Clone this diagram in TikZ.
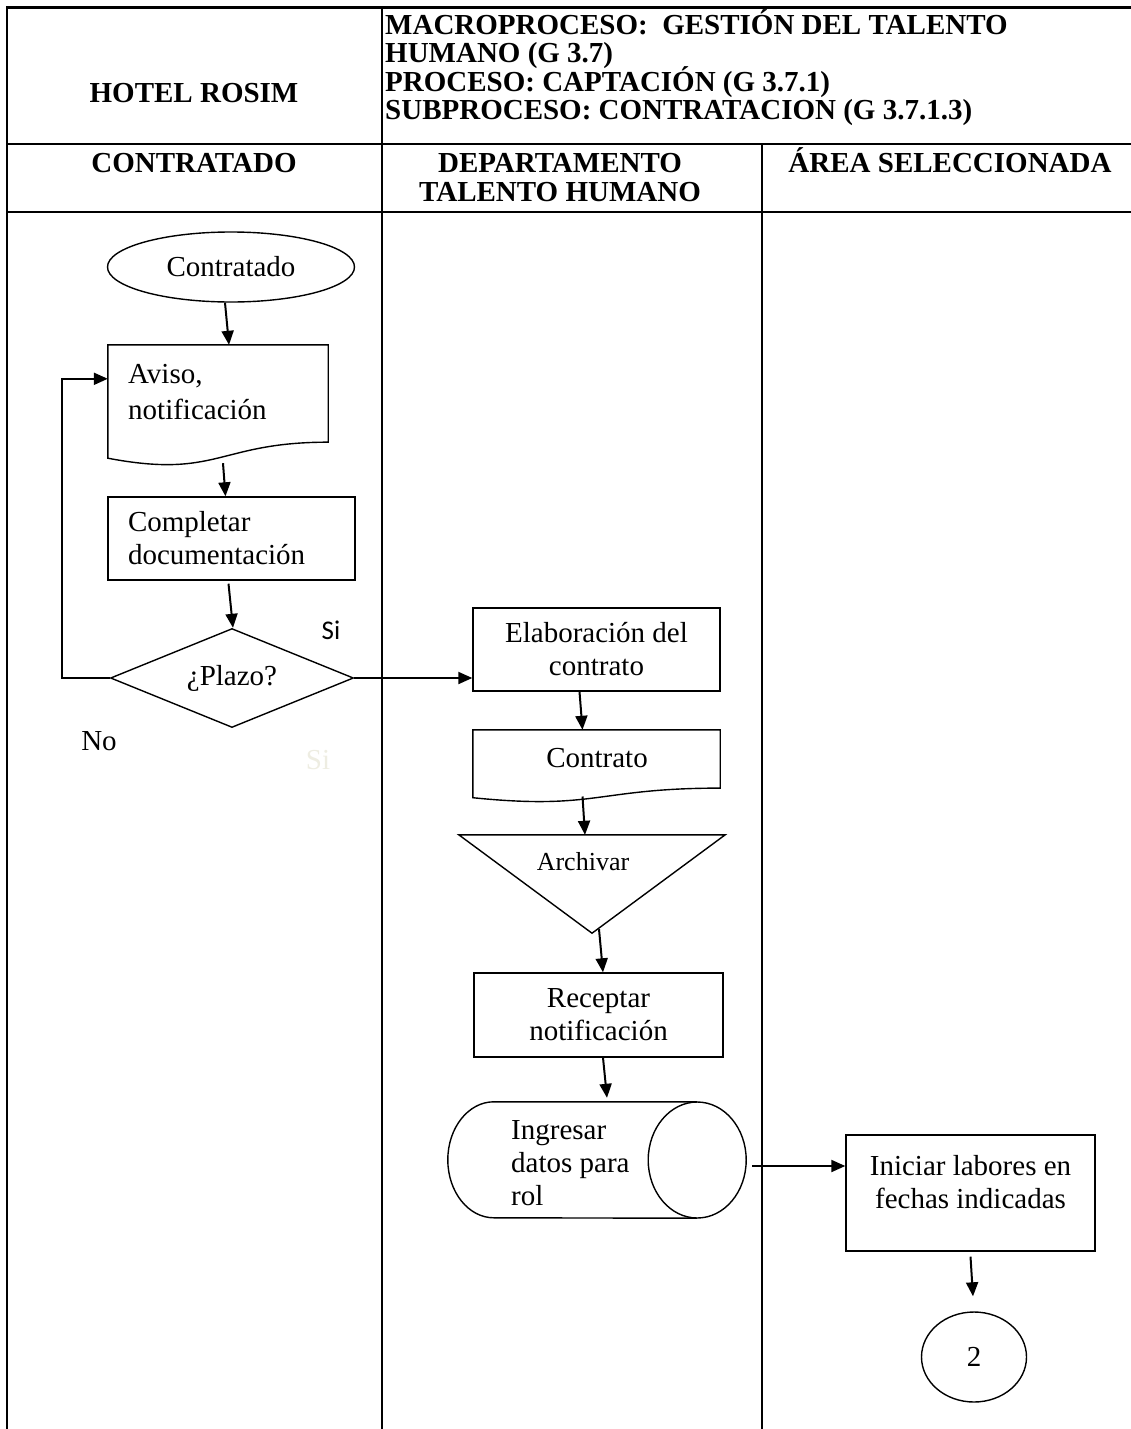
\documentclass[tikz,border=0pt]{standalone}
\usepackage{fontspec}
\setmainfont{Liberation Serif}
\newfontfamily\labelsans{Carlito}
\usetikzlibrary{shapes.geometric,calc,arrows.meta}
\definecolor{faint}{HTML}{EEEDE2}

% outline of a flowchart "document" symbol drawn over a blank node
\newcommand\docpath[1]{%
  \draw[outline] (#1.north west) -- (#1.north east)
    -- ($(#1.north east)!0.802!(#1.south east)$)
    .. controls ($(#1.north)!0.802!(#1.south)$) and ($(#1.north)!1.107!(#1.south)$)
    .. ($(#1.north west)!0.934!(#1.south west)$) -- cycle;}

\begin{document}
\begin{tikzpicture}[x=1pt,y=-1pt,
  font=\fontsize{29}{33}\selectfont,
  tbl/.style={line width=2.2pt},
  outline/.style={line width=1.4pt},
  shp/.style={draw, line width=1.4pt, inner sep=0pt},
  blank/.style={inner sep=0pt, minimum width=#1},
  flow/.style={line width=2pt, -{Triangle[length=14pt,width=12pt]}},
  hdr/.style={font=\fontsize{29}{29}\selectfont\bfseries, inner sep=0pt},
  txt/.style={inner sep=0pt},
]
\useasboundingbox (0,0) rectangle (1131,1429);

% swimlane table
\draw[tbl] (6,7.5) -- (1131,7.5);
\draw[tbl] (6,144) -- (1131,144);
\draw[tbl] (6,212) -- (1131,212);
\draw[tbl] (7,6.4) -- (7,1429);
\draw[tbl] (382,6.4) -- (382,1429);
\draw[tbl] (762,144) -- (762,1429);

% header
\node[hdr] (hotel) at (194,93) {HOTEL ROSIM};
\node[hdr, anchor=base west] (macro1) at (385,35) {MACROPROCESO:\ \ GESTIÓN DEL TALENTO};
\node[hdr, anchor=base west] (macro2) at (385,63) {HUMANO (G 3.7)};
\node[hdr, anchor=base west] (macro3) at (385,91) {PROCESO: CAPTACIÓN (G 3.7.1)};
\node[hdr, anchor=base west] (macro4) at (385,119) {SUBPROCESO: CONTRATACION (G 3.7.1.3)};
\node[hdr] (lane1) at (194,163) {CONTRATADO};
\node[hdr, align=center] (lane2) at (560,177.5) {DEPARTAMENTO\\TALENTO HUMANO};
\node[hdr, anchor=base] (lane3) at (950,172.6) {ÁREA SELECCIONADA};

% lane 1: contratado
\node[shp, ellipse, minimum width=247pt, minimum height=70pt] (start) at (231,267) {Contratado};

\node[blank=220pt, minimum height=121pt] (aviso) at (218,405.5) {};
\docpath{aviso}
\node[txt, anchor=west, align=left, font=\fontsize{29}{36}\selectfont] (avisotxt) at (128,392) {Aviso,\\notificación};

\node[shp, minimum width=247pt, minimum height=83pt, text width=207pt, align=left] (comp) at (231.5,538.5) {Completar\\documentación};

\node[shp, diamond, aspect=2.45, minimum width=243pt, minimum height=99pt] (plazo) at (232,678) {¿Plazo?};

\node[txt, font=\labelsans\fontsize{27}{30}\selectfont] (si) at (331,630) {Si};
\node[txt] (no) at (99,741) {No};
\node[txt, text=faint] (sifaint) at (318,760) {Si};

% lane 2: departamento talento humano
\node[shp, minimum width=247pt, minimum height=83pt, align=center] (elab) at (596.5,649.5) {Elaboración del\\contrato};

\node[blank=247pt, minimum height=72.3pt] (contr) at (596.5,766.15) {};
\docpath{contr}
\node[txt] (contrtxt) at (597,758) {Contrato};

\node[blank=266pt, minimum height=98pt] (arch) at (592,884) {};
\draw[outline] (arch.north west) -- (arch.north east) -- (arch.south) -- cycle;
\node[txt, font=\fontsize{26}{30}\selectfont] (archtxt) at (583,862) {Archivar};

\node[shp, minimum width=249pt, minimum height=84pt, align=center] (rec) at (598.5,1015) {Receptar\\notificación};

\node[blank=298pt, minimum height=116pt] (cyl) at (597,1160) {};
\draw[outline] ($(cyl.north east)+(-49,0)$) -- ($(cyl.north west)+(46,0)$)
  arc[start angle=270, end angle=90, x radius=46, y radius=58]
  -- ($(cyl.south east)+(-49,0)$);
\draw[outline] ($(cyl.east)+(-49,0)$) ellipse[x radius=49, y radius=58];
\node[txt, anchor=west, align=left] (cyltxt) at (511,1163) {Ingresar\\datos para\\rol};

% lane 3: area seleccionada
\node[shp, minimum width=249pt, minimum height=116pt] (ini) at (970.5,1193) {};
\node[txt, align=center] (initxt) at (970.5,1182) {Iniciar labores en\\fechas indicadas};

\node[shp, ellipse, minimum width=105pt, minimum height=90pt] (c2) at (974,1357) {2};

% connectors
\draw[flow] ($(start.south)+(-6,0)$) -- ($(aviso.north)+(11,0)$);
\draw[flow] ($(aviso.south)+(5,-3)$) -- ($(comp.north)+(-6,0)$);
\draw[flow] ($(comp.south)+(-3,3)$) -- ($(plazo.north)+(1,0)$);
\draw[flow] (plazo.west) -- ++(-48,0) |- ($(aviso.north west)+(0,34)$);
\draw[flow] (plazo.east) -- (plazo.east -| elab.west);
\draw[flow] ($(elab.south)+(-17,0)$) -- ($(contr.north)+(-14,0)$);
\draw[flow] ($(contr.south)+(-14,-6)$) -- ($(arch.north)+(-7,0)$);
\draw[flow] ($(arch.south)+(7,-4)$) -- ($(rec.north)+(4.5,0)$);
\draw[flow] ($(rec.south)+(4.5,0)$) -- ($(cyl.north)+(10,-4)$);
\coordinate (cylout) at ($(cyl.east)+(6,6)$);
\draw[flow] (cylout) -- (cylout -| ini.west);
\draw[flow] ($(ini.south)+(0,5)$) -- ($(c2.north)+(-1,-15)$);
\end{tikzpicture}
\end{document}
